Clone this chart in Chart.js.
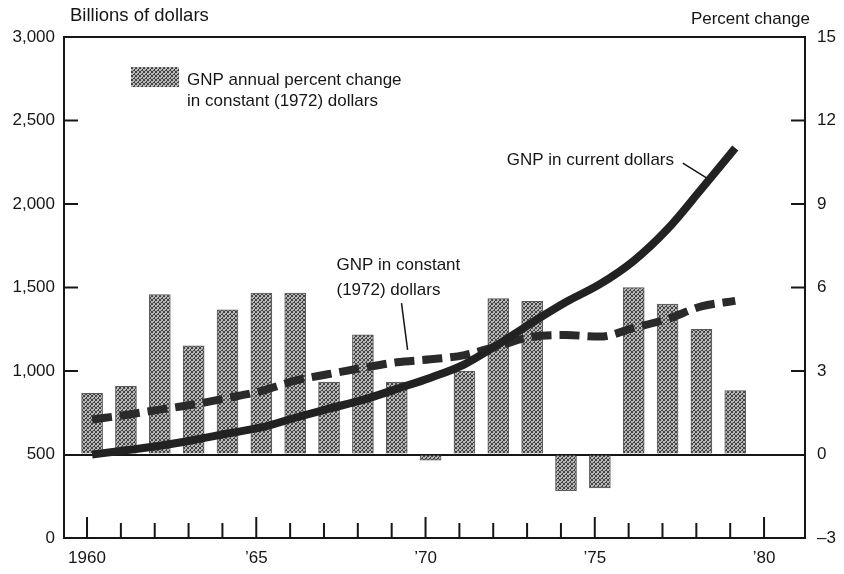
<!DOCTYPE html>
<html>
<head>
<meta charset="utf-8">
<script src="https://cdn.jsdelivr.net/npm/chart.js@4.4.1/dist/chart.umd.min.js"></script>
<style>
  html, body { margin: 0; padding: 0; background: #fff; }
  #wrap { width: 844px; height: 574px; }
</style>
</head>
<body>
<div id="wrap"><canvas id="gnpChart"></canvas></div>
<script>
// values
const years = [1960, 1961, 1962, 1963, 1964, 1965, 1966, 1967, 1968, 1969,
               1970, 1971, 1972, 1973, 1974, 1975, 1976, 1977, 1978, 1979];
const pctChange = [2.2, 2.45, 5.75, 3.9, 5.2, 5.8, 5.8, 2.6, 4.3, 2.6,
                   -0.2, 3.0, 5.6, 5.5, -1.3, -1.2, 6.0, 5.4, 4.5, 2.3];
const gnpCurrent = [500, 525, 552, 587, 626, 662, 720, 775, 827, 893,
                    960, 1040, 1160, 1290, 1413, 1520, 1660, 1850, 2090, 2335];
const gnpConstant = [710, 737, 769, 799, 838, 880, 942, 982, 1019, 1052,
                     1070, 1095, 1150, 1205, 1215, 1206, 1258, 1312, 1387, 1420];

const dollarTicks = [0, 500, 1000, 1500, 2000, 2500, 3000];
const pctTicks = [-3, 0, 3, 6, 9, 12, 15];
const yearTicks = [1960, 1961, 1962, 1963, 1964, 1965, 1966, 1967, 1968, 1969, 1970,
                   1971, 1972, 1973, 1974, 1975, 1976, 1977, 1978, 1979, 1980];
const labeledYears = [1960, 1965, 1970, 1975, 1980];
const yearLabels = ['1960', '\u201965', '\u201970', '\u201975', '\u201980'];

const FONT = "'Liberation Sans', Arial, sans-serif";
const INK = '#161616';

// the printed marks sit a little right of the year ticks
const X_MIN = 1959.32, X_MAX = 1981.21, MARK_SHIFT = 0.15;

const canvas = document.getElementById('gnpChart');
const ctx0 = canvas.getContext('2d');

// dotted grey screen like the printed bars
function makeStipple(ctx) {
    const c = document.createElement('canvas');
    c.width = 4; c.height = 4;
    const g = c.getContext('2d');
    g.fillStyle = '#b6b6b6';
    g.fillRect(0, 0, 4, 4);
    g.fillStyle = '#444444';
    [[0, 0], [2, 1], [1, 2], [3, 3], [3, 0], [0, 3], [2, 2]].forEach(p => g.fillRect(p[0], p[1], 1, 1));
    return ctx.createPattern(c, 'repeat');
}
const stipple = makeStipple(ctx0);

const toPoints = vals => years.map((yr, i) => ({ x: yr, y: vals[i] }));

const decor = {
    id: 'decor',
    afterDraw(chart) {
        const { ctx, chartArea: a, scales } = chart;
        const x = scales.xt, y = scales.y, y1 = scales.y1;
        ctx.save();
        ctx.strokeStyle = INK;
        ctx.lineWidth = 2;

        // inward tick marks
        ctx.beginPath();
        y.ticks.forEach(t => {
            if (t.value === 0 || t.value === 500 || t.value === 3000) return;
            const py = y.getPixelForValue(t.value);
            ctx.moveTo(a.left, py); ctx.lineTo(a.left + 14, py);
        });
        y1.ticks.forEach(t => {
            if (t.value === 0 || t.value === -3 || t.value === 15) return;
            const py = y1.getPixelForValue(t.value);
            ctx.moveTo(a.right, py); ctx.lineTo(a.right - 14, py);
        });
        x.ticks.forEach(t => {
            const px = x.getPixelForValue(t.value);
            const len = t.value % 5 === 0 ? 21 : 15;
            ctx.moveTo(px, a.bottom); ctx.lineTo(px, a.bottom - len);
        });
        ctx.stroke();

        ctx.fillStyle = INK;
        ctx.textBaseline = 'middle';

        // axis titles
        ctx.font = '18.5px ' + FONT;
        ctx.textAlign = 'left';
        ctx.fillText('Billions of dollars', a.left + 6, 16);
        ctx.font = '17px ' + FONT;
        ctx.textAlign = 'right';
        ctx.fillText('Percent change', a.right + 5, 19);

        // legend box
        const lx = x.getPixelForValue(1961.3), ly = y.getPixelForValue(2820);
        ctx.fillStyle = stipple;
        ctx.fillRect(lx, ly, 48, 20);
        ctx.fillStyle = INK;
        ctx.textAlign = 'left';
        ctx.fillText('GNP annual percent change', lx + 56, ly + 13);
        ctx.fillText('in constant (1972) dollars', lx + 56, ly + 34);

        // line labels with leaders
        ctx.fillText('GNP in current dollars', x.getPixelForValue(1972.4), y.getPixelForValue(2263));
        ctx.fillText('GNP in constant', x.getPixelForValue(1967.37), y.getPixelForValue(1635));
        ctx.fillText('(1972) dollars', x.getPixelForValue(1967.37), y.getPixelForValue(1485));
        ctx.lineWidth = 1.5;
        ctx.beginPath();
        ctx.moveTo(x.getPixelForValue(1977.6), y.getPixelForValue(2245));
        ctx.lineTo(x.getPixelForValue(1978.3), y.getPixelForValue(2156));
        ctx.moveTo(x.getPixelForValue(1969.29), y.getPixelForValue(1407));
        ctx.lineTo(x.getPixelForValue(1969.47), y.getPixelForValue(1126));
        ctx.stroke();
        ctx.restore();
    }
};

const tickFont = { family: FONT, size: 17 };

new Chart(canvas, {
    type: 'bar',
    data: {
        datasets: [
            {
                type: 'line',
                label: 'GNP in current dollars',
                data: toPoints(gnpCurrent),
                xAxisID: 'x', yAxisID: 'y',
                borderColor: '#222',
                borderWidth: 8,
                pointRadius: 0,
                cubicInterpolationMode: 'monotone',
                order: 1
            },
            {
                type: 'line',
                label: 'GNP in constant (1972) dollars',
                data: toPoints(gnpConstant),
                xAxisID: 'x', yAxisID: 'y',
                borderColor: '#2a2a2a',
                borderWidth: 8,
                borderDash: [20, 8],
                borderCapStyle: 'butt',
                pointRadius: 0,
                cubicInterpolationMode: 'monotone',
                order: 2
            },
            {
                type: 'bar',
                label: 'GNP annual percent change in constant (1972) dollars',
                data: toPoints(pctChange),
                xAxisID: 'x', yAxisID: 'y1',
                backgroundColor: stipple,
                borderColor: '#5a5a5a',
                borderWidth: 1,
                barThickness: 21,
                order: 3
            }
        ]
    },
    options: {
        responsive: true,
        maintainAspectRatio: false,
        animation: false,
        layout: { padding: 0 },
        plugins: {
            legend: { display: false },
            tooltip: { enabled: false }
        },
        scales: {
            // data axis, not drawn
            x: {
                type: 'linear',
                display: false,
                offset: false,
                min: X_MIN - MARK_SHIFT,
                max: X_MAX - MARK_SHIFT
            },
            // visible year axis
            xt: {
                type: 'linear',
                position: 'bottom',
                offset: false,
                min: X_MIN,
                max: X_MAX,
                afterBuildTicks: s => { s.ticks = yearTicks.map(v => ({ value: v })); },
                afterFit: s => { s.height = 36; },
                ticks: {
                    autoSkip: false,
                    maxRotation: 0,
                    padding: 10,
                    color: INK,
                    font: tickFont,
                    callback: v => {
                        const k = labeledYears.indexOf(v);
                        return k >= 0 ? yearLabels[k] : '';
                    }
                },
                grid: { display: false, drawTicks: false, offset: false },
                border: { display: true, color: INK, width: 2 }
            },
            x2: {
                type: 'linear',
                position: 'top',
                offset: false,
                min: X_MIN,
                max: X_MAX,
                afterFit: s => { s.height = 37; },
                ticks: { display: false },
                grid: { display: false, drawTicks: false, offset: false },
                border: { display: true, color: INK, width: 2 }
            },
            y: {
                type: 'linear',
                position: 'left',
                min: 0,
                max: 3000,
                afterBuildTicks: s => { s.ticks = dollarTicks.map(v => ({ value: v })); },
                afterFit: s => { s.width = 64; },
                ticks: {
                    padding: 9,
                    color: INK,
                    font: tickFont,
                    callback: v => v.toLocaleString('en-US')
                },
                grid: { display: false, drawTicks: false },
                border: { display: true, color: INK, width: 2 }
            },
            y1: {
                type: 'linear',
                position: 'right',
                min: -3,
                max: 15,
                afterBuildTicks: s => { s.ticks = pctTicks.map(v => ({ value: v })); },
                afterFit: s => { s.width = 39; },
                ticks: {
                    padding: 12,
                    color: INK,
                    font: tickFont,
                    callback: v => (v < 0 ? '\u2013' + Math.abs(v) : String(v))
                },
                grid: {
                    display: true,
                    drawTicks: false,
                    color: c => (c.tick && c.tick.value === 0 ? INK : 'rgba(0,0,0,0)'),
                    lineWidth: 2
                },
                border: { display: true, color: INK, width: 2 }
            }
        }
    },
    plugins: [decor]
});
</script>
</body>
</html>
